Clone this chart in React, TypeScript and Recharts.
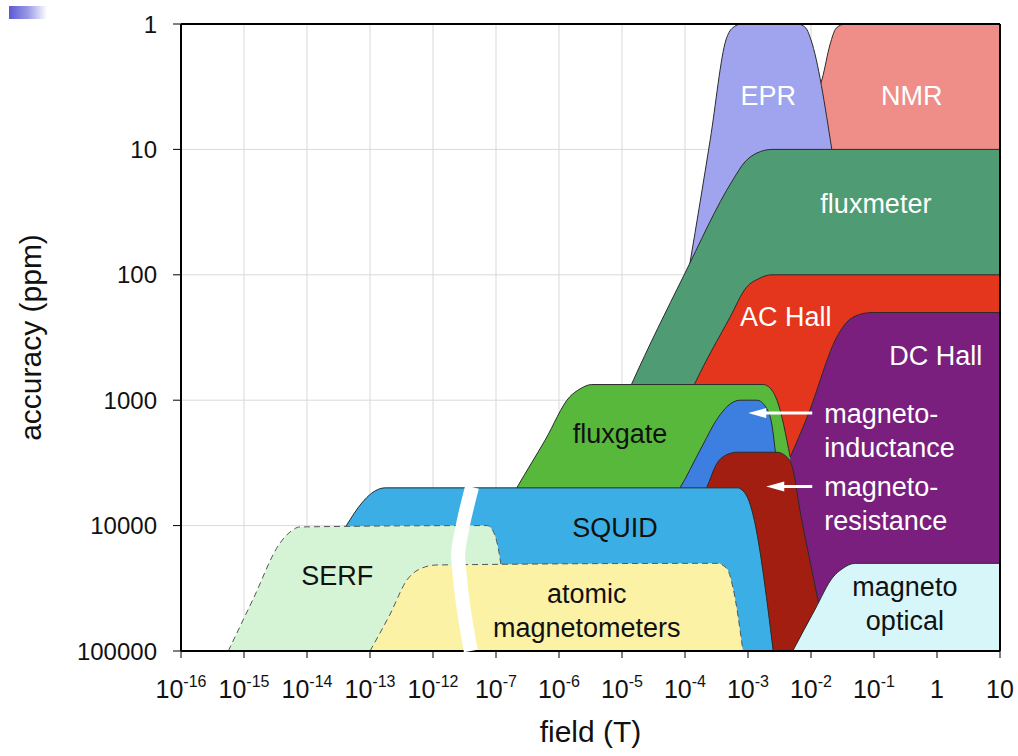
import {
  ComposedChart,
  Area,
  Line,
  XAxis,
  YAxis,
  CartesianGrid,
  ReferenceLine,
  ReferenceDot,
  Label,
} from "recharts";

const FONT = '"Liberation Sans", Arial, Helvetica, sans-serif';

// x = position along the broken field axis (0 = 1e-16 T ... 4 = 1e-12 T, 5 = 1e-7 T ... 13 = 10 T)
// y = accuracy in ppm
const xTicks = [0, 1, 2, 3, 4, 5, 6, 7, 8, 9, 10, 11, 12, 13];
const xTickBase = ["10", "10", "10", "10", "10", "10", "10", "10", "10", "10", "10", "10", "1", "10"];
const xTickExp = ["-16", "-15", "-14", "-13", "-12", "-7", "-6", "-5", "-4", "-3", "-2", "-1", "", ""];
const yTicks = [1, 10, 100, 1000, 10000, 100000];

const nmr = [
  { x: 10.06, y: 4.0 }, { x: 10.18, y: 2.7 }, { x: 10.3, y: 1.47 }, { x: 10.4, y: 1.08 },
  { x: 10.54, y: 1 }, { x: 13, y: 1 },
];
const epr = [
  { x: 7.76, y: 690 }, { x: 8.08, y: 80 }, { x: 8.4, y: 8.4 }, { x: 8.65, y: 1.34 },
  { x: 8.75, y: 1.08 }, { x: 8.9, y: 1 }, { x: 9.79, y: 1 }, { x: 9.92, y: 1.08 },
  { x: 10.0, y: 1.34 }, { x: 10.33, y: 10 },
];
const fluxmeter = [
  { x: 6.97, y: 1200 }, { x: 7.16, y: 730 }, { x: 7.97, y: 104 }, { x: 8.76, y: 17.5 },
  { x: 8.95, y: 12.6 }, { x: 9.14, y: 10.7 }, { x: 9.38, y: 10 }, { x: 13, y: 10 },
];
const acHall = [
  { x: 8.0, y: 1090 }, { x: 8.16, y: 730 }, { x: 8.71, y: 220 }, { x: 8.98, y: 125 },
  { x: 9.16, y: 108 }, { x: 9.38, y: 100 }, { x: 13, y: 100 },
];
const dcHall = [
  { x: 9.51, y: 4300 }, { x: 9.67, y: 2840 }, { x: 9.94, y: 1360 }, { x: 10.43, y: 300 },
  { x: 10.57, y: 238 }, { x: 10.75, y: 209 }, { x: 10.97, y: 200 }, { x: 13, y: 200 },
];
const fluxgate = [
  { x: 5.22, y: 6250 }, { x: 5.33, y: 5000 }, { x: 5.78, y: 2080 }, { x: 6.17, y: 940 },
  { x: 6.33, y: 815 }, { x: 6.52, y: 750 }, { x: 9.24, y: 750 }, { x: 9.35, y: 800 },
  { x: 9.46, y: 1000 }, { x: 9.67, y: 2840 },
];
const magnetoInductance = [
  { x: 7.79, y: 6250 }, { x: 7.92, y: 5000 }, { x: 8.24, y: 2500 }, { x: 8.52, y: 1390 },
  { x: 8.68, y: 1110 }, { x: 8.87, y: 1000 }, { x: 9.14, y: 1000 }, { x: 9.29, y: 1150 },
  { x: 9.38, y: 1580 }, { x: 9.44, y: 2740 },
];
const magnetoResistance = [
  { x: 8.24, y: 6250 }, { x: 8.35, y: 4900 }, { x: 8.49, y: 3300 }, { x: 8.65, y: 2740 },
  { x: 8.83, y: 2600 }, { x: 9.46, y: 2600 }, { x: 9.6, y: 2790 }, { x: 9.7, y: 3350 },
  { x: 9.83, y: 7800 }, { x: 10.1, y: 37000 }, { x: 10.24, y: 82000 },
];
const squid = [
  { x: 2.44, y: 14300 }, { x: 2.63, y: 9900 }, { x: 2.87, y: 6600 }, { x: 3.03, y: 5500 },
  { x: 3.24, y: 5000 }, { x: 8.83, y: 5000 }, { x: 8.98, y: 5800 }, { x: 9.06, y: 7500 },
  { x: 9.4, y: 100000 },
];
const serf = [
  { x: 0.75, y: 100000 }, { x: 1.14, y: 39000 }, { x: 1.57, y: 13800 }, { x: 1.73, y: 11250 },
  { x: 1.89, y: 10250 }, { x: 4.86, y: 10000 }, { x: 4.97, y: 11500 }, { x: 5.06, y: 17800 },
  { x: 5.11, y: 27000 },
];
const atomic = [
  { x: 3.0, y: 100000 }, { x: 3.32, y: 50700 }, { x: 3.59, y: 27000 }, { x: 3.76, y: 22600 },
  { x: 4.06, y: 20600 }, { x: 8.51, y: 20000 }, { x: 8.67, y: 22200 }, { x: 8.76, y: 31000 },
  { x: 8.92, y: 100000 },
];
const magnetoOptical = [
  { x: 9.71, y: 100000 }, { x: 10.06, y: 47000 }, { x: 10.35, y: 25700 }, { x: 10.49, y: 22200 },
  { x: 10.7, y: 20000 }, { x: 13, y: 20000 },
];
// white cut marking the axis break
const axisBreak = [
  { x: 4.62, y: 4920 }, { x: 4.46, y: 10800 }, { x: 4.4, y: 17100 }, { x: 4.43, y: 27000 },
  { x: 4.49, y: 47000 }, { x: 4.6, y: 100000 },
];

// drawn back to front
const regions = [
  { name: "NMR", data: nmr, fill: "#EF8E88" },
  { name: "EPR", data: epr, fill: "#A0A3EE" },
  { name: "fluxmeter", data: fluxmeter, fill: "#4F9B74" },
  { name: "AC Hall", data: acHall, fill: "#E4361C" },
  { name: "DC Hall", data: dcHall, fill: "#7B1F7E" },
  { name: "fluxgate", data: fluxgate, fill: "#58B83C" },
  { name: "magneto-inductance", data: magnetoInductance, fill: "#3D7FE0" },
  { name: "magneto-resistance", data: magnetoResistance, fill: "#A11E10" },
  { name: "SQUID", data: squid, fill: "#3BAFE5" },
  { name: "SERF", data: serf, fill: "#D5F4D5", dashed: true },
  { name: "atomic magnetometers", data: atomic, fill: "#FBF2A6", dashed: true },
  { name: "magneto optical", data: magnetoOptical, fill: "#D7F6FA" },
];

const notes = [
  { lines: ["EPR"], x: 9.32, y: 3.68, color: "#fff" },
  { lines: ["NMR"], x: 11.6, y: 3.68, color: "#fff" },
  { lines: ["fluxmeter"], x: 11.03, y: 26.7, color: "#fff" },
  { lines: ["AC Hall"], x: 9.6, y: 213, color: "#fff" },
  { lines: ["DC Hall"], x: 11.98, y: 436, color: "#fff" },
  { lines: ["fluxgate"], x: 6.97, y: 1830, color: "#111" },
  { lines: ["magneto-", "inductance"], x: 10.21, y: 1730, color: "#fff", start: true, arrow: 64 },
  { lines: ["magneto-", "resistance"], x: 10.21, y: 6660, color: "#fff", start: true, arrow: 46 },
  { lines: ["SQUID"], x: 6.89, y: 10260, color: "#111" },
  { lines: ["SERF"], x: 2.48, y: 24800, color: "#111" },
  { lines: ["atomic", "magnetometers"], x: 6.44, y: 47100, color: "#111" },
  { lines: ["magneto", "optical"], x: 11.49, y: 41400, color: "#111" },
];

const FieldTick = (props: any) => {
  const { x, y, payload } = props;
  const i = payload.value;
  return (
    <text x={x} y={y + 38} textAnchor="middle" fontFamily={FONT} fontSize={25} fill="#111">
      {xTickBase[i]}
      {xTickExp[i] ? (
        <tspan dy={-11} fontSize={16}>
          {xTickExp[i]}
        </tspan>
      ) : null}
    </text>
  );
};

const noteShape = (note: any) => (props: any) => {
  const { cx, cy } = props;
  const lh = 34;
  const n = note.lines.length;
  const firstY = cy - ((n - 1) * lh) / 2;
  return (
    <g>
      {note.arrow ? (
        <g>
          <line x1={cx - 12} y1={firstY} x2={cx - note.arrow} y2={firstY} stroke="#fff" strokeWidth={3} />
          <polygon
            points={`${cx - 12 - note.arrow},${firstY} ${cx - note.arrow + 6},${firstY - 5} ${cx - note.arrow + 6},${firstY + 5}`}
            fill="#fff"
          />
        </g>
      ) : null}
      {note.lines.map((t: string, i: number) => (
        <text
          key={t}
          x={cx}
          y={firstY + i * lh}
          dy="0.36em"
          textAnchor={note.start ? "start" : "middle"}
          fontFamily={FONT}
          fontSize={27}
          fill={note.color}
        >
          {t}
        </text>
      ))}
    </g>
  );
};

export default function App() {
  return (
    <div style={{ position: "absolute", left: 0, top: 0, width: 1018, height: 756, background: "#fff" }}>
      <div
        style={{
          position: "absolute",
          left: 9,
          top: 6,
          width: 38,
          height: 13,
          background: "linear-gradient(90deg, #5b5bd2 0%, #9a9ae6 50%, #ffffff 100%)",
        }}
      />
      <ComposedChart width={1018} height={756} margin={{ top: 24, right: 18, left: 0, bottom: 0 }}>
        <CartesianGrid stroke="#D9D9D9" strokeWidth={1} />
        <XAxis
          type="number"
          dataKey="x"
          domain={[0, 13]}
          ticks={xTicks}
          interval={0}
          height={105}
          tick={<FieldTick />}
          tickSize={7}
          axisLine={{ stroke: "#000", strokeWidth: 2 }}
          tickLine={{ stroke: "#000" }}
        >
          <Label value="field (T)" position="center" dy={28} style={{ fontSize: 30, fontFamily: FONT, fill: "#111" }} />
        </XAxis>
        <YAxis
          type="number"
          dataKey="y"
          scale="log"
          domain={[1, 100000]}
          reversed
          ticks={yTicks}
          interval={0}
          width={181}
          tickSize={8}
          tickMargin={16}
          tick={{ fontSize: 24, fill: "#111", fontFamily: FONT }}
          axisLine={{ stroke: "#000", strokeWidth: 2 }}
          tickLine={{ stroke: "#000" }}
        >
          <Label
            value="accuracy (ppm)"
            position="center"
            angle={-90}
            dx={-60}
            style={{ fontSize: 30, fontFamily: FONT, fill: "#111", textAnchor: "middle" }}
          />
        </YAxis>
        {regions.map((r) => (
          <Area
            key={r.name}
            name={r.name}
            data={r.data}
            dataKey="y"
            type="monotone"
            baseValue="dataMax"
            fill={r.fill}
            fillOpacity={1}
            stroke={r.dashed ? "#555" : "#2b2b2b"}
            strokeWidth={1}
            strokeDasharray={r.dashed ? "6 4" : undefined}
            dot={false}
            activeDot={false}
            isAnimationActive={false}
          />
        ))}
        <Line
          data={axisBreak}
          dataKey="y"
          type="monotoneY"
          stroke="#fff"
          strokeWidth={14}
          dot={false}
          activeDot={false}
          isAnimationActive={false}
          zIndex={600}
        />
        <ReferenceLine y={1} stroke="#000" strokeWidth={2} zIndex={600} />
        <ReferenceLine x={13} stroke="#000" strokeWidth={2} zIndex={600} />
        {notes.map((n) => (
          <ReferenceDot
            key={n.lines.join(" ")}
            x={n.x}
            y={n.y}
            r={0}
            ifOverflow="visible"
            shape={noteShape(n)}
            zIndex={2000}
          />
        ))}
      </ComposedChart>
    </div>
  );
}
